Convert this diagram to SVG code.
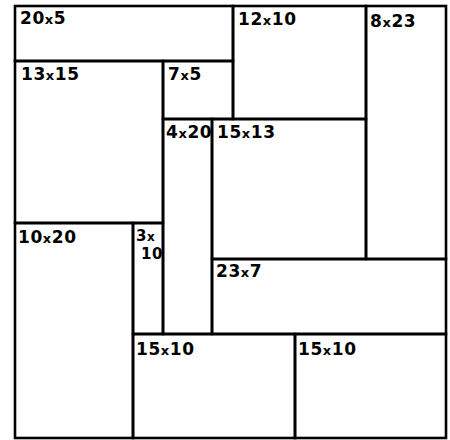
<svg xmlns="http://www.w3.org/2000/svg" width="450" height="440" viewBox="0 0 450 440">
<style>
.r{fill:none;stroke:#000;stroke-width:2.6}
.t{font-family:"DejaVu Sans",sans-serif;font-weight:bold;font-size:17px;letter-spacing:0.6px;fill:#000}
.s{font-size:13px}
.m{font-size:15px}
</style>
<rect x="0" y="0" width="450" height="440" fill="#fff"/>
<g id="n20x5"><rect class="r" x="15" y="6" width="218" height="55"/><text class="t" x="20" y="24">20<tspan class="s">x</tspan>5</text></g>
<g id="n12x10"><rect class="r" x="233" y="6" width="133" height="113"/><text class="t" x="238" y="25">12<tspan class="s">x</tspan>10</text></g>
<g id="n8x23"><rect class="r" x="366" y="6" width="80" height="253"/><text class="t" x="370" y="27">8<tspan class="s">x</tspan>23</text></g>
<g id="n13x15"><rect class="r" x="15" y="61" width="148" height="162"/><text class="t" x="21" y="80">13<tspan class="s">x</tspan>15</text></g>
<g id="n7x5"><rect class="r" x="163" y="61" width="70" height="58"/><text class="t" x="168" y="80">7<tspan class="s">x</tspan>5</text></g>
<g id="n4x20"><rect class="r" x="163" y="119" width="49" height="215"/><text class="t" x="166" y="138" letter-spacing="0">4<tspan class="s">x</tspan>20</text></g>
<g id="n15x13"><rect class="r" x="212" y="119" width="154" height="140"/><text class="t" x="217" y="138">15<tspan class="s">x</tspan>13</text></g>
<g id="n10x20"><rect class="r" x="15" y="223" width="118" height="215"/><text class="t" x="18" y="243">10<tspan class="s">x</tspan>20</text></g>
<g id="n3x10"><rect class="r" x="133" y="223" width="30" height="111"/><text class="t m" x="136" y="241">3<tspan font-size="12px">x</tspan></text><text class="t m" x="141" y="259">10</text></g>
<g id="n23x7"><rect class="r" x="212" y="259" width="234" height="75"/><text class="t" x="216" y="277">23<tspan class="s">x</tspan>7</text></g>
<g id="n15x10a"><rect class="r" x="133" y="334" width="162" height="104"/><text class="t" x="136" y="355">15<tspan class="s">x</tspan>10</text></g>
<g id="n15x10b"><rect class="r" x="295" y="334" width="151" height="104"/><text class="t" x="298" y="355">15<tspan class="s">x</tspan>10</text></g>
</svg>
